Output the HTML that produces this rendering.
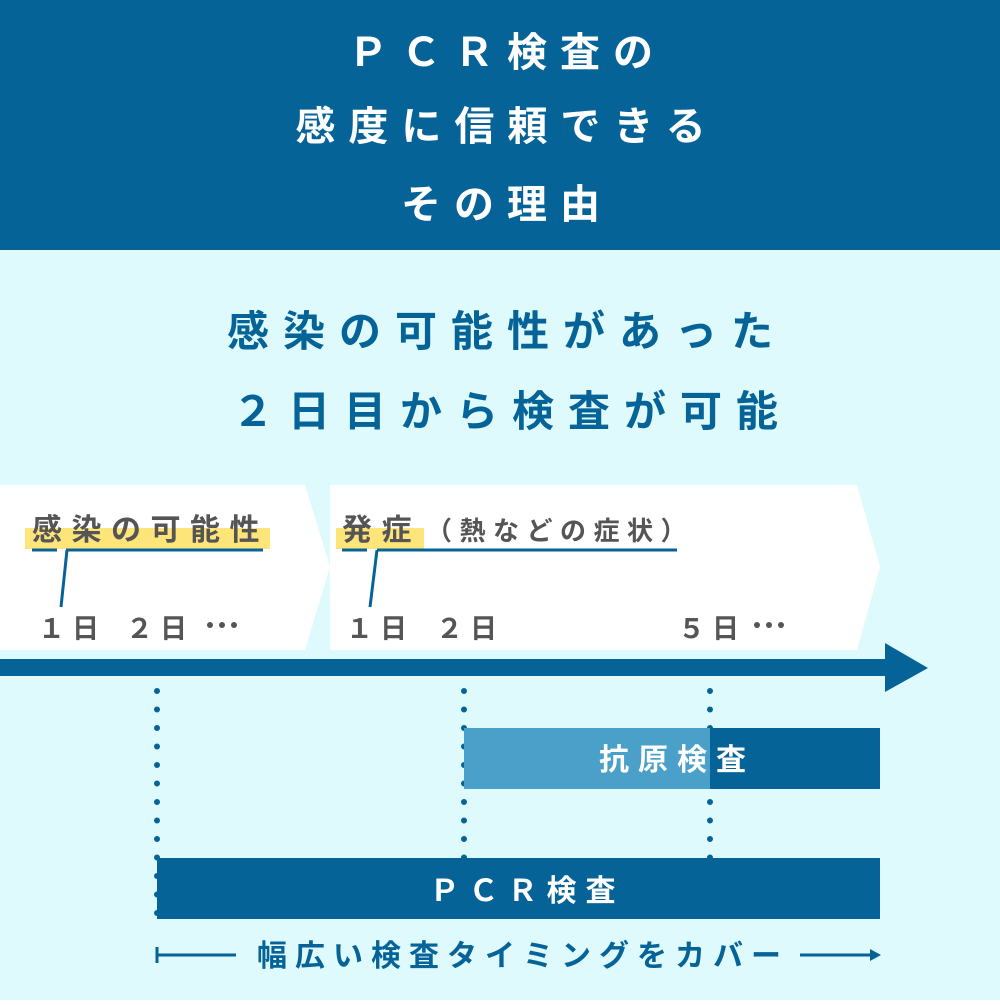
<!DOCTYPE html>
<html><head><meta charset="utf-8"><style>
html,body{margin:0;padding:0;}
svg text{font-family:"Liberation Sans","Noto Sans CJK JP",sans-serif;font-weight:bold;}
</style></head><body>
<svg width="1000" height="1000" viewBox="0 0 1000 1000" xmlns="http://www.w3.org/2000/svg">
<rect width="1000" height="1000" fill="#defafd"/>
<rect width="1000" height="250" fill="#066398"/>
<g fill="#fff" font-size="40" text-anchor="middle" letter-spacing="13">
<text x="507" y="66">ＰＣＲ検査の</text>
<text x="507" y="140">感度に信頼できる</text>
<text x="507" y="218">その理由</text>
</g>
<g fill="#066398" font-size="42" text-anchor="middle" letter-spacing="14">
<text x="507" y="346">感染の可能性があった</text>
<text x="512" y="426">２日目から検査が可能</text>
</g>
<polygon points="0,485 305,485 330,567 305,650 0,650" fill="#fff"/>
<polygon points="330,485 857,485 880,567 857,650 330,650" fill="#fff"/>
<rect x="25" y="528" width="245" height="21" fill="#fde57a"/>
<rect x="336" y="528" width="88" height="21" fill="#fde57a"/>
<g fill="#555" font-size="30" letter-spacing="9.5">
<text x="32" y="540">感染の可能性</text>
<text x="342" y="540">発症</text>
<text x="426" y="540" font-size="26" letter-spacing="7.5">（熱などの症状）</text>
</g>
<g stroke="#066398" stroke-width="3" fill="none">
<line x1="32" y1="550" x2="57" y2="550"/><line x1="66" y1="550" x2="263" y2="550"/>
<line x1="67" y1="550" x2="61" y2="607"/>
<line x1="342" y1="550" x2="367" y2="550"/><line x1="377" y1="550" x2="677" y2="550"/>
<line x1="377" y1="550" x2="370" y2="607"/>
</g>
<g fill="#555" font-size="27" letter-spacing="7">
<text x="38" y="638">１日</text><text x="126" y="638">２日</text>
<text x="346" y="638">１日</text><text x="436" y="638">２日</text>
<text x="678" y="638">５日</text>
</g>
<g fill="#555">
<circle cx="210" cy="625" r="3"/><circle cx="222" cy="625" r="3"/><circle cx="234" cy="625" r="3"/>
<circle cx="757" cy="625" r="3"/><circle cx="769" cy="625" r="3"/><circle cx="781" cy="625" r="3"/>
</g>
<rect x="0" y="659" width="890" height="17" fill="#066398"/>
<polygon points="885,643 928,668 885,692" fill="#066398"/>
<g stroke="#066398" stroke-width="6" stroke-linecap="round" stroke-dasharray="0 18.5">
<line x1="157" y1="691" x2="157" y2="915"/>
<line x1="464" y1="691" x2="464" y2="860"/>
<line x1="710" y1="691" x2="710" y2="860"/>
</g>
<rect x="464" y="728" width="246" height="61" fill="#4aa0c8"/>
<rect x="710" y="728" width="170" height="61" fill="#066398"/>
<text x="677" y="770" fill="#fff" font-size="30" text-anchor="middle" letter-spacing="9">抗原検査</text>
<rect x="157" y="858" width="723" height="61" fill="#066398"/>
<text x="527" y="901" fill="#fff" font-size="30" text-anchor="middle" letter-spacing="9">ＰＣＲ検査</text>
<g stroke="#066398" stroke-width="3">
<line x1="157" y1="955" x2="236" y2="955"/><line x1="157" y1="947" x2="157" y2="963"/>
<line x1="800" y1="955" x2="872" y2="955"/>
</g>
<polygon points="870,949 881,955 870,961" fill="#066398"/>
<text x="523" y="966" fill="#066398" font-size="30" text-anchor="middle" letter-spacing="8">幅広い検査タイミングをカバー</text>
</svg>
</body></html>
